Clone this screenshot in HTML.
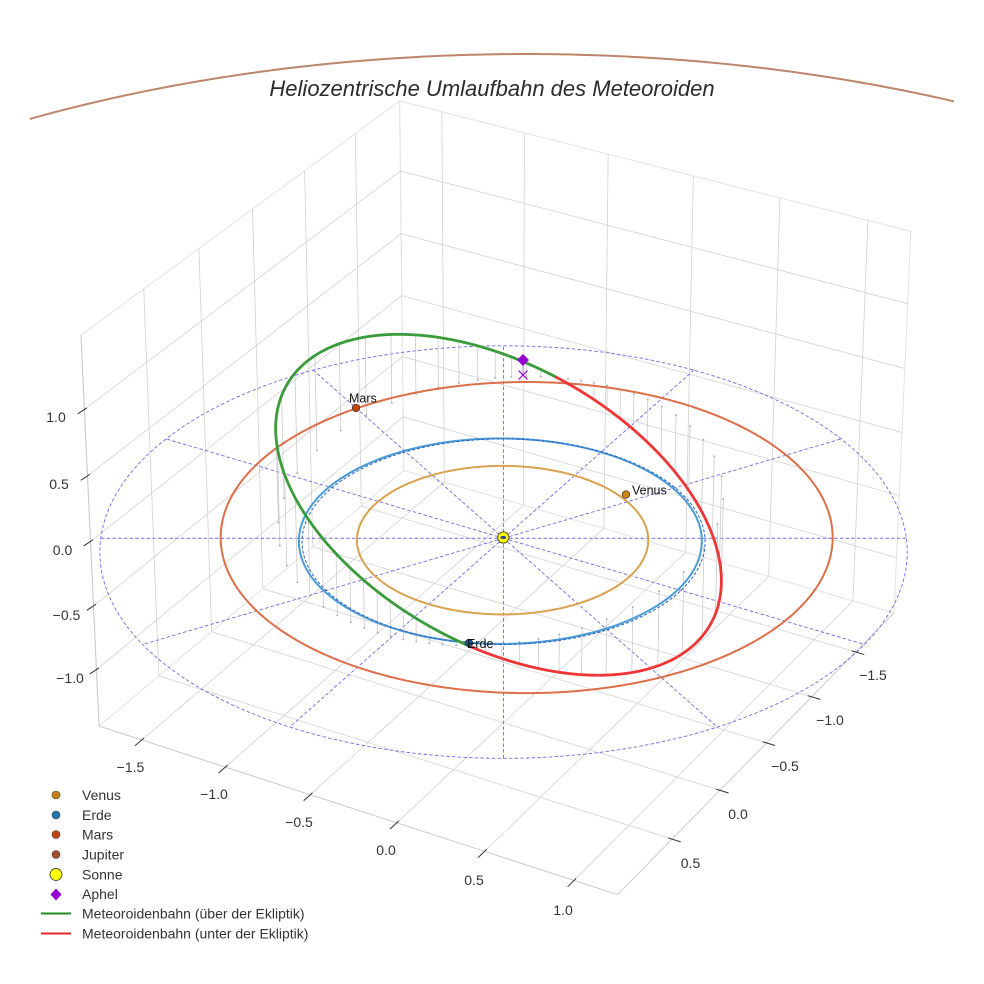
<!DOCTYPE html>
<html>
<head>
<meta charset="utf-8">
<style>
html,body{margin:0;padding:0;background:#ffffff;width:984px;height:984px;overflow:hidden;}
svg{display:block;}
text{font-family:"Liberation Sans",Arial,sans-serif;}
</style>
</head>
<body>
<svg id="s" width="984" height="984" viewBox="0 0 984 984" xmlns="http://www.w3.org/2000/svg" style="overflow:hidden">
<defs>
  <clipPath id="axclip"><rect x="30" y="0" width="924" height="400"/></clipPath>
  <clipPath id="full"><rect x="0" y="0" width="984" height="984"/></clipPath>
</defs>
<rect x="0" y="0" width="984" height="984" fill="#ffffff"/>
<g clip-path="url(#full)">
<g id="grid"></g>
<g id="eclip"></g>
<g id="jup" clip-path="url(#axclip)"></g>
<g id="stems"></g>
<g id="orbits"></g>
<g id="met"></g>
<g id="marks"></g>
<g id="ticks"></g>
</g>

<text x="492" y="96" font-size="22" font-style="italic" fill="#2b2b2b" text-anchor="middle">Heliozentrische Umlaufbahn des Meteoroiden</text>

<g font-size="14" fill="#333" text-anchor="middle">
  <text x="56" y="422">1.0</text>
  <text x="59" y="489">0.5</text>
  <text x="62.5" y="555">0.0</text>
  <text x="66.5" y="620">−0.5</text>
  <text x="70" y="683">−1.0</text>
  <text x="130.5" y="772">−1.5</text>
  <text x="214" y="799">−1.0</text>
  <text x="299" y="827">−0.5</text>
  <text x="386" y="855">0.0</text>
  <text x="474" y="885">0.5</text>
  <text x="563" y="915">1.0</text>
  <text x="873" y="680">−1.5</text>
  <text x="830" y="725">−1.0</text>
  <text x="785" y="771">−0.5</text>
  <text x="738" y="819">0.0</text>
  <text x="690.5" y="868">0.5</text>
</g>

<g>
  <circle cx="56" cy="795" r="4" fill="#c8820f" stroke="#3a3a3a" stroke-width="0.6"/>
  <circle cx="56" cy="815" r="4" fill="#1f77b4" stroke="#3a3a3a" stroke-width="0.6"/>
  <circle cx="56" cy="834.5" r="4" fill="#c1440e" stroke="#3a3a3a" stroke-width="0.6"/>
  <circle cx="56" cy="854.5" r="4" fill="#a0522d" stroke="#3a3a3a" stroke-width="0.6"/>
  <circle cx="56" cy="874.5" r="6" fill="#ffff00" stroke="#444" stroke-width="0.9"/>
  <polygon points="56,888.5 61.5,894.5 56,900.5 50.5,894.5" fill="#9400d3"/>
  <line x1="41" y1="913.5" x2="71" y2="913.5" stroke="#1e8a1e" stroke-width="2"/>
  <line x1="41" y1="933.5" x2="71" y2="933.5" stroke="#e02a2a" stroke-width="2"/>
  <g font-size="14" fill="#333">
    <text x="82" y="800">Venus</text>
    <text x="82" y="820">Erde</text>
    <text x="82" y="839.5">Mars</text>
    <text x="82" y="859.5">Jupiter</text>
    <text x="82" y="879.5">Sonne</text>
    <text x="82" y="899">Aphel</text>
    <text x="82" y="918.5">Meteoroidenbahn (über der Ekliptik)</text>
    <text x="82" y="938.5">Meteoroidenbahn (unter der Ekliptik)</text>
  </g>
</g>

<g font-size="12.5" fill="#111">
  <text x="632" y="494.5">Venus</text>
  <text x="349" y="402.5">Mars</text>
  <text x="467" y="648">Erde</text>
</g>
</svg>
<script>
(function(){
const S=5200,CX=503.6,CY=479.5;
const L={x0:-1.949,x1:1.051,y0:-1.759,y1:1.241,z0:-1.45,z1:1.55};
const AX=1.142857,AZ=0.857143;
const U=[-0.5,0.8660254,0],V=[-0.4330127,-0.25,0.8660254],W=[0.75,0.4330127,0.5];
function P(x,y,z){
  const X=(x-L.x0)/(L.x1-L.x0)*AX-AX/2;
  const Y=(y-L.y0)/(L.y1-L.y0)*AX-AX/2;
  const Z=(z-L.z0)/(L.z1-L.z0)*AZ-AZ/2;
  const du=U[0]*X+U[1]*Y, dv=V[0]*X+V[1]*Y+V[2]*Z, dw=W[0]*X+W[1]*Y+W[2]*Z;
  const den=10-dw;
  return [CX+S*du/den, CY-S*dv/den];
}
const NS='http://www.w3.org/2000/svg';
function el(g,tag,attrs){const e=document.createElementNS(NS,tag);for(const k in attrs)e.setAttribute(k,attrs[k]);document.getElementById(g).appendChild(e);return e;}
function f(v){return Number(v).toFixed(2);}
function pts(arr){return arr.map(function(p){return f(p[0])+','+f(p[1]);}).join(' ');}
function seg(g,a,b,st){el(g,'line',Object.assign({x1:f(a[0]),y1:f(a[1]),x2:f(b[0]),y2:f(b[1])},st));}
function poly(g,arr,st){el(g,'polyline',Object.assign({points:pts(arr),fill:'none'},st));}
function unit(a,b){const dx=b[0]-a[0],dy=b[1]-a[1];const l=Math.hypot(dx,dy);return [dx/l,dy/l];}

const x0=L.x0,x1=L.x1,y0=L.y0,y1=L.y1,z0=L.z0,z1=L.z1;
const gs={stroke:'#d2d2d2','stroke-width':0.8};
const es={stroke:'#e3e3e3','stroke-width':1};
const as={stroke:'#c6c6c6','stroke-width':0.9};

poly('grid',[P(x1,y0,z0),P(x1,y0,z1),P(x0,y0,z1),P(x0,y0,z0),P(x1,y0,z0)],es);
poly('grid',[P(x0,y0,z0),P(x0,y0,z1),P(x0,y1,z1),P(x0,y1,z0),P(x0,y0,z0)],es);

const xt=[-1.5,-1,-0.5,0,0.5];
const yt=[-1.5,-1,-0.5,0,0.5,1.0];
const zt=[-1,-0.5,0,0.5,1];
xt.forEach(function(t){poly('grid',[P(t,y1,z0),P(t,y0,z0),P(t,y0,z1)],gs);});
yt.forEach(function(t){poly('grid',[P(x1,t,z0),P(x0,t,z0),P(x0,t,z1)],gs);});
zt.forEach(function(t){poly('grid',[P(x1,y0,t),P(x0,y0,t),P(x0,y1,t)],gs);});

seg('grid',P(x1,y0,z0),P(x1,y1,z0),as);
seg('grid',P(x1,y1,z0),P(x0,y1,z0),as);
seg('grid',P(x1,y0,z0),P(x1,y0,z1),as);

const ts={stroke:'#333','stroke-width':1};
xt.forEach(function(t){const E=P(t,y1,z0);const D=unit(E,P(t,y1+0.1,z0));seg('ticks',[E[0]-4*D[0],E[1]-4*D[1]],[E[0]+9*D[0],E[1]+9*D[1]],ts);});
yt.forEach(function(t){const E=P(x1,t,z0);const D=unit(E,P(x1+0.1,t,z0));seg('ticks',[E[0]-3*D[0],E[1]-3*D[1]],[E[0]+9*D[0],E[1]+9*D[1]],ts);});
zt.forEach(function(t){const E=P(x1,y0,t);const D=[-0.83,0.55];seg('ticks',[E[0]-3*D[0],E[1]-3*D[1]],[E[0]+8*D[0],E[1]+8*D[1]],ts);});

const ds={stroke:'#6a62e4','stroke-width':0.9,'stroke-dasharray':'3.5,2.2',fill:'none',opacity:0.95};
const circ=[];for(let i=0;i<=360;i++){const a=i*Math.PI/180;circ.push(P(2*Math.cos(a),2*Math.sin(a),0));}
poly('eclip',circ,ds);
const O=P(0,0,0);
for(let k=0;k<12;k++){const a=k*30*Math.PI/180;seg('eclip',O,P(2*Math.cos(a),2*Math.sin(a),0),ds);}

function kep(a,e,w,fx){const out=[];for(let i=0;i<=720;i++){const l=i/2*Math.PI/180;const r=fx*a*(1-e*e)/(1+e*Math.cos(l-w*Math.PI/180));out.push(P(r*Math.cos(l),r*Math.sin(l),0));}return out;}
// Jupiter: only the far (visible) arc
(function(){
  const out=[];
  for(let i=0;i<=720;i++){
    const deg=120+i*0.25; const l=deg*Math.PI/180;
    const e=0.09,a=5.203*0.991,w=14.75;
    const r=a*(1-e*e)/(1+e*Math.cos(l-w*Math.PI/180));
    const p=P(r*Math.cos(l),r*Math.sin(l),0);
    if(p[1]<300 && p[0]>-50 && p[0]<1034) out.push(p);
  }
  poly('jup',out,{stroke:'#bd866b','stroke-width':2});
})();

poly('orbits',kep(0.723,0.0068,131.5,1),{stroke:'#d9a24f','stroke-width':2});
poly('orbits',kep(1.0,0.0167,102.9,1),{stroke:'#4c9bd6','stroke-width':2});
poly('orbits',kep(1.0,0,0,1),{stroke:'#2462c2','stroke-width':1,'stroke-dasharray':'3,2'});
poly('orbits',kep(1.524,0.0934,336.04,1),{stroke:'#dc6f4a','stroke-width':2});

const MP=[[469,643],[437,628],[400,610],[367,590],[343,570],[323,543],[307,513],[293,487],[283,460],[279,433],[282,407],[293,377],[317,353],[350,338],[393,333],[450,340],[523,360],[557,377],[620,417],[653,453],[687,493],[707,527],[718,560],[723,593],[717,623],[700,647],[667,663],[633,672],[600,675],[560,670],[529,663],[488,650]];
function solve(A,b){const n=b.length;for(let i=0;i<n;i++){let m=i;for(let k=i+1;k<n;k++){if(Math.abs(A[k][i])>Math.abs(A[m][i]))m=k;}let tmp=A[i];A[i]=A[m];A[m]=tmp;tmp=b[i];b[i]=b[m];b[m]=tmp;for(let k=i+1;k<n;k++){const q=A[k][i]/A[i][i];for(let j=i;j<n;j++)A[k][j]-=q*A[i][j];b[k]-=q*b[i];}}const x=[0,0,0,0,0];for(let i=n-1;i>=0;i--){let s=b[i];for(let j=i+1;j<n;j++)s-=A[i][j]*x[j];x[i]=s/A[i][i];}return x;}
const NA=[[0,0,0,0,0],[0,0,0,0,0],[0,0,0,0,0],[0,0,0,0,0],[0,0,0,0,0]],NB=[0,0,0,0,0];
MP.forEach(function(pp){const x=(pp[0]-500)/100,y=(pp[1]-500)/100;const r=[x*x,x*y,y*y,x,y];for(let i=0;i<5;i++){NB[i]+=r[i];for(let j=0;j<5;j++)NA[i][j]+=r[i]*r[j];}});
const co=solve(NA,NB);
const ca=co[0],cb=co[1],cc=co[2],cd=co[3],ce=co[4];
const det=ca*cc-cb*cb/4;
const Mi=[[cc/det,-cb/2/det],[-cb/2/det,ca/det]];
const mg=[Mi[0][0]*cd+Mi[0][1]*ce,Mi[1][0]*cd+Mi[1][1]*ce];
const p0=[-0.5*mg[0],-0.5*mg[1]];
const K=1+0.25*(cd*mg[0]+ce*mg[1]);
function ell(t){const ux=Math.cos(t),uy=Math.sin(t);const q=ca*ux*ux+cb*ux*uy+cc*uy*uy;const r=Math.sqrt(K/q);return [500+100*(p0[0]+r*ux),500+100*(p0[1]+r*uy)];}

const E=[469,643],Nd=[557,377];
const dl=Math.hypot(Nd[0]-E[0],Nd[1]-E[1]);const dd=[(Nd[0]-E[0])/dl,(Nd[1]-E[1])/dl];
function cr(p){return dd[0]*(p[1]-E[1])-dd[1]*(p[0]-E[0]);}

const VP=[503.6,9570];
const NSt=58;
for(let k=0;k<NSt;k++){
  const t=2*Math.PI*(k+0.3)/NSt;const p=ell(t);const z=-0.4*cr(p);
  if(Math.abs(z)<3)continue;
  const D=unit(p,VP);const b=[p[0]+D[0]*z,p[1]+D[1]*z];
  seg('stems',p,b,{stroke:'#c4c4c4','stroke-width':0.7});
  el('stems','circle',{cx:f(b[0]),cy:f(b[1]),r:1,fill:'#b0b0b0'});
}

const n=1440;const ps=[];for(let i=0;i<=n;i++)ps.push(ell(2*Math.PI*i/n));
let cur=null,run=[];
const gst={stroke:'#3a9b3a','stroke-width':2.8,'stroke-linejoin':'round','stroke-linecap':'round'};
const rst={stroke:'#ee3636','stroke-width':2.8,'stroke-linejoin':'round','stroke-linecap':'round'};
for(let i=0;i<n;i++){
  const a=ps[i],b=ps[i+1];const m=[(a[0]+b[0])/2,(a[1]+b[1])/2];
  const c=cr(m)<0?'g':'r';
  if(c!==cur){if(run.length>1)poly('met',run,cur==='g'?gst:rst);run=[a];cur=c;}
  run.push(b);
}
if(run.length>1)poly('met',run,cur==='g'?gst:rst);

el('marks','circle',{cx:503.3,cy:537.5,r:5.6,fill:'#ffff00',stroke:'#5a5a10','stroke-width':1});
el('marks','ellipse',{cx:503.3,cy:537.5,rx:3,ry:1.6,fill:'#3246a8'});
el('marks','circle',{cx:626,cy:494.5,r:3.8,fill:'#c8820f',stroke:'#333','stroke-width':0.7});
el('marks','circle',{cx:356,cy:408,r:3.8,fill:'#c1440e',stroke:'#333','stroke-width':0.7});
el('marks','circle',{cx:469,cy:643,r:3.8,fill:'#1f4f96',stroke:'#222','stroke-width':0.7});
const ap=[523,360];const apb=[523,375];
seg('marks',ap,apb,{stroke:'#b070d0','stroke-width':0.8});
seg('marks',[apb[0]-4.5,apb[1]-4.5],[apb[0]+4.5,apb[1]+4.5],{stroke:'#9400d3','stroke-width':1.2});
seg('marks',[apb[0]-4.5,apb[1]+4.5],[apb[0]+4.5,apb[1]-4.5],{stroke:'#9400d3','stroke-width':1.2});
el('marks','polygon',{points:'523,354 529,360 523,366 517,360',fill:'#9400d3'});
})();
</script>
</body>
</html>
